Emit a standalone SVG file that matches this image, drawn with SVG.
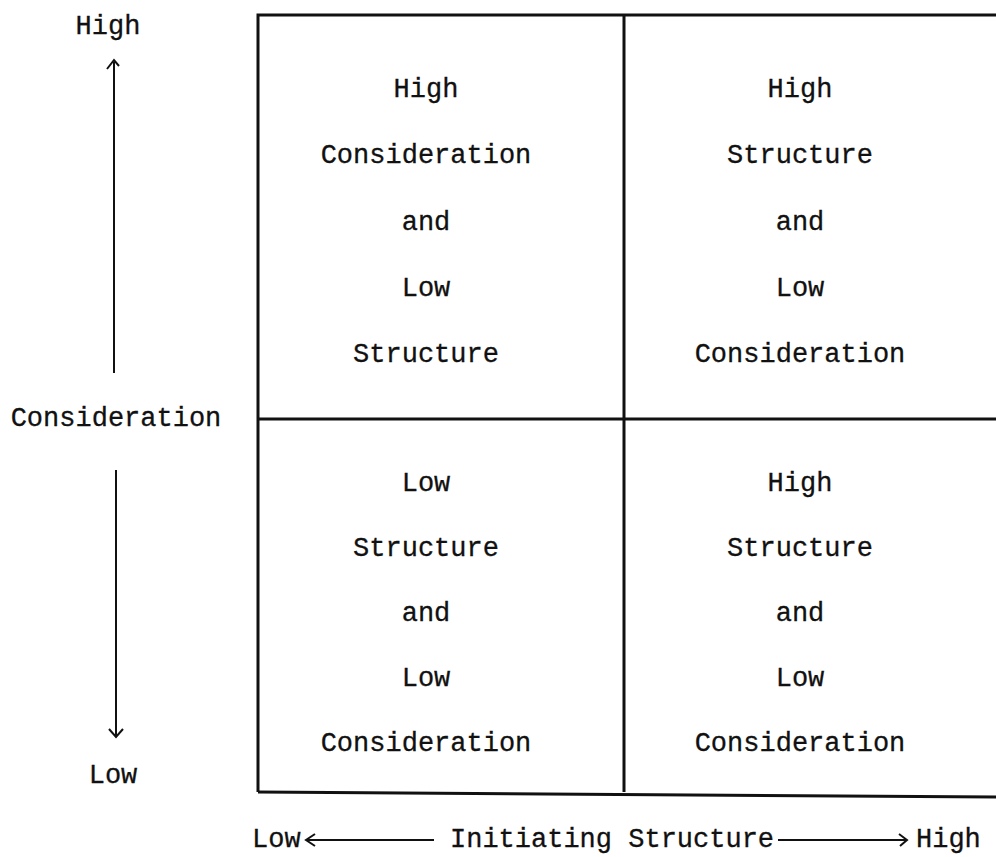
<svg xmlns="http://www.w3.org/2000/svg" width="996" height="857" viewBox="0 0 996 857">
<style>
text{font-family:"Liberation Mono","Courier New",monospace;font-size:27px;fill:#111;stroke:#111;stroke-width:0.3}
.c{text-anchor:middle}
.grid{stroke:#111;stroke-width:3;fill:none}
.ax{stroke:#111;stroke-width:2;fill:none}
</style>
<rect width="996" height="857" fill="#fff"/>
<g id="grid">
<path class="grid" d="M258,792 L258,15 L996,15"/>
<path class="grid" d="M258,792 L996,797"/>
<path class="grid" d="M624,15 L624,792"/>
<path class="grid" d="M258,419 L996,419"/>
</g>
<g id="cell-tl">
<text class="c" x="426" y="97">High</text>
<text class="c" x="426" y="163">Consideration</text>
<text class="c" x="426" y="230">and</text>
<text class="c" x="426" y="296">Low</text>
<text class="c" x="426" y="362">Structure</text>
</g>
<g id="cell-tr">
<text class="c" x="800" y="97">High</text>
<text class="c" x="800" y="163">Structure</text>
<text class="c" x="800" y="230">and</text>
<text class="c" x="800" y="296">Low</text>
<text class="c" x="800" y="362">Consideration</text>
</g>
<g id="cell-bl">
<text class="c" x="426" y="491">Low</text>
<text class="c" x="426" y="556">Structure</text>
<text class="c" x="426" y="621">and</text>
<text class="c" x="426" y="686">Low</text>
<text class="c" x="426" y="751">Consideration</text>
</g>
<g id="cell-br">
<text class="c" x="800" y="491">High</text>
<text class="c" x="800" y="556">Structure</text>
<text class="c" x="800" y="621">and</text>
<text class="c" x="800" y="686">Low</text>
<text class="c" x="800" y="751">Consideration</text>
</g>
<g id="y-axis">
<text class="c" x="108" y="34">High</text>
<text class="c" x="116" y="426">Consideration</text>
<text class="c" x="113" y="783">Low</text>
</g>
<g id="x-axis">
<text x="252" y="847">Low</text>
<text x="450" y="847">Initiating Structure</text>
<text x="916" y="847">High</text>
</g>
<g id="connectors">
<path class="ax" d="M114,373 L114,62 M107,69 L114,60 L119,66"/>
<path class="ax" d="M116,470 L116,737 M109,729 L116,737 L123,729"/>
<path class="ax" d="M434,840 L307,840 M315,834 L306,840 L315,846"/>
<path class="ax" d="M778,840 L906,840 M899,834 L907,840 L900,846"/>
</g>
</svg>
